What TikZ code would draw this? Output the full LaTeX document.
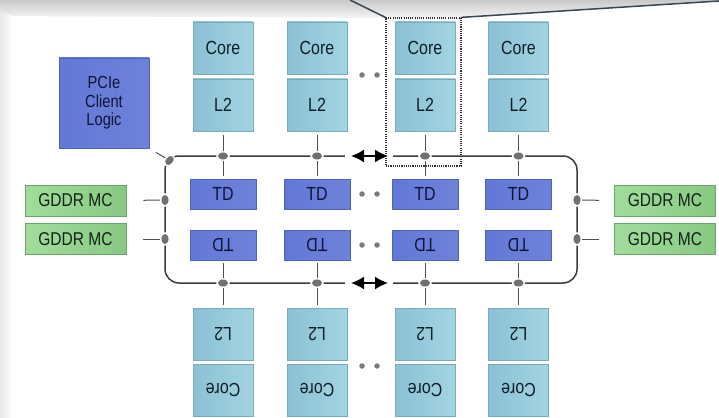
\documentclass[tikz,border=0pt]{standalone}
\usepackage{fontspec}
\usepackage{graphicx}
\setmainfont[FakeStretch=0.84]{Liberation Sans}
\usetikzlibrary{arrows.meta,shapes.geometric,calc}
\definecolor{txt}{HTML}{101E26}
\definecolor{cyanL}{HTML}{8AC1D4}
\definecolor{cyanM}{HTML}{CBECF5}
\definecolor{cyanR}{HTML}{A3D4E3}
\definecolor{cyanE}{HTML}{7BAABB}
\definecolor{tdL}{HTML}{6378D6}
\definecolor{tdM}{HTML}{93A3E8}
\definecolor{tdR}{HTML}{6E82DA}
\definecolor{tdE}{HTML}{4F63BC}
\definecolor{tdT}{HTML}{0F1538}
\definecolor{gL}{HTML}{A2DC9C}
\definecolor{gM}{HTML}{C6EFC1}
\definecolor{gR}{HTML}{88C884}
\definecolor{gE}{HTML}{6AA56A}
\definecolor{gT}{HTML}{112214}
\definecolor{busC}{HTML}{3C3C3C}
\definecolor{stubC}{HTML}{505050}
\definecolor{ellC}{HTML}{707070}
\definecolor{dotC}{HTML}{7A7A7A}
\definecolor{callC}{HTML}{3A4650}
\definecolor{zoomC}{HTML}{303030}
\begin{document}
\begin{tikzpicture}[x=1pt,y=-1pt,
  cbox/.style={draw=cyanE, line width=0.5pt, left color=cyanL, middle color=cyanM, right color=cyanR,
    minimum width=60pt, minimum height=52pt, inner sep=0pt, text=txt, font=\fontsize{19}{19}\selectfont},
  tdbox/.style={draw=tdE, line width=0.5pt, left color=tdL, middle color=tdM, right color=tdR,
    minimum width=66pt, minimum height=30pt, inner sep=0pt, text=tdT, font=\fontsize{19}{19}\selectfont},
  gbox/.style={draw=gE, line width=0.6pt, left color=gL, middle color=gM, right color=gR,
    minimum width=101pt, minimum height=31pt, inner sep=0pt, text=gT, font=\fontsize{18.5}{18.5}\selectfont},
  pbox/.style={draw=tdE, line width=0.6pt, left color=tdL, middle color=tdM, right color=tdR,
    minimum width=90pt, minimum height=90pt, inner sep=0pt, text=tdT, align=center,
    font=\fontsize{17.5}{18.5}\selectfont},
  bus/.style={draw=busC, line width=1.5pt},
  stub/.style={draw=stubC, line width=1pt},
  ell/.style={ellipse, fill=ellC, draw=white, line width=1.4pt, minimum width=12pt,
    minimum height=8.5pt, inner sep=0pt},
  gdot/.style={circle, fill=dotC, minimum size=5.5pt, inner sep=0pt},
  darr/.style={{Latex[length=13pt,width=13pt]}-{Latex[length=13pt,width=13pt]}, line width=1.6pt, draw=black},
]
\useasboundingbox (0,0) rectangle (719,417);
\fill[white] (0,0) rectangle (719,417);
% background band of the slide
\shade[top color=gray!42, bottom color=gray!8] (0,0) -- (719,0) -- (719,1) -- (461,18) -- (386,18) -- (0,16) -- cycle;
\shade[left color=gray!18, right color=white] (0,16) rectangle (12,417);

% bus coordinates
\foreach \i/\x in {1/223,2/317,3/425,4/518.5}{
  \coordinate (pt\i) at (\x,156);
  \coordinate (pb\i) at (\x,283);
}
\coordinate (pl1) at (165,200);
\coordinate (pl2) at (165,239);
\coordinate (pr1) at (577,200);
\coordinate (pr2) at (577,239);
\coordinate (pcorner) at (169.5,160.5);

% ring bus
\draw[bus, rounded corners=14pt] (165,156) rectangle (577,283);

% boxes
\foreach \i/\x in {1/223,2/317,3/425,4/518.5}{
  \node[cbox] (core\i) at (\x,48) {Core};
  \node[cbox] (l2t\i) at (\x,105) {L2};
  \node[tdbox] (tdt\i) at (\x,194) {TD};
  \node[tdbox] (tdb\i) at (\x,245) {\rotatebox{180}{TD}};
  \node[cbox] (l2b\i) at (\x,334) {\rotatebox{180}{L2}};
  \node[cbox] (coreb\i) at (\x,390) {\rotatebox{180}{Core}};
  \draw[stub, shorten <=4pt, shorten >=3pt] (l2t\i.south) -- (tdt\i.north);
  \draw[stub, shorten <=3pt, shorten >=3pt] (tdb\i.south) -- (l2b\i.north);
}

\node[pbox] (pcie) at (104,103) {PCIe\\Client\\Logic};
\node[gbox] (gl1) at (75.5,200.5) {GDDR MC};
\node[gbox] (gl2) at (75.5,239) {GDDR MC};
\node[gbox] (gr1) at (665,200.5) {GDDR MC};
\node[gbox] (gr2) at (665,239) {GDDR MC};

\draw[stub, shorten <=17pt] (gl1.east) -- (pl1);
\draw[stub, shorten <=17pt] (gl2.east) -- (pl2);
\draw[stub, shorten <=15pt] (gr1.west) -- (pr1);
\draw[stub, shorten <=15pt] (gr2.west) -- (pr2);
\draw[stub, shorten <=8pt] (pcie.south east) -- (pcorner);

% bus stops
\foreach \i in {1,2,3,4}{
  \node[ell] (et\i) at (pt\i) {};
  \node[ell] (eb\i) at (pb\i) {};
}
\node[ell, rotate=90] (el1) at (pl1) {};
\node[ell, rotate=90] (el2) at (pl2) {};
\node[ell, rotate=90] (er1) at (pr1) {};
\node[ell, rotate=90] (er2) at (pr2) {};
\node[ell, rotate=50] (ec) at (pcorner) {};

% double arrows
\coordinate (atl) at (351,156);
\coordinate (atr) at (388,156);
\coordinate (abl) at (351,283);
\coordinate (abr) at (388,283);
\fill[white] (345,152) rectangle (393,160);
\fill[white] (345,279) rectangle (393,287);
\draw[darr] (atl) -- (atr);
\draw[darr] (abl) -- (abr);

% ellipsis dots
\node[gdot] (d1) at (362,75) {};
\node[gdot] (d2) at (377,75) {};
\node[gdot] (d3) at (362,194) {};
\node[gdot] (d4) at (377,194) {};
\node[gdot] (d5) at (362,245) {};
\node[gdot] (d6) at (377,245) {};
\node[gdot] (d7) at (362,366) {};
\node[gdot] (d8) at (377,366) {};

% zoom frame and callout lines
\node[draw=zoomC, line width=1.3pt, dash pattern=on 1.1pt off 1.1pt, minimum width=75pt,
  minimum height=148pt, inner sep=0pt] (zoom) at (423.5,92) {};
\coordinate (cl) at (350,0);
\coordinate (cr) at (719,1);
\draw[callC, line width=1.5pt] (cl) -- (zoom.north west);
\draw[callC, line width=1.5pt] (zoom.north east) -- (cr);
\end{tikzpicture}
\end{document}
